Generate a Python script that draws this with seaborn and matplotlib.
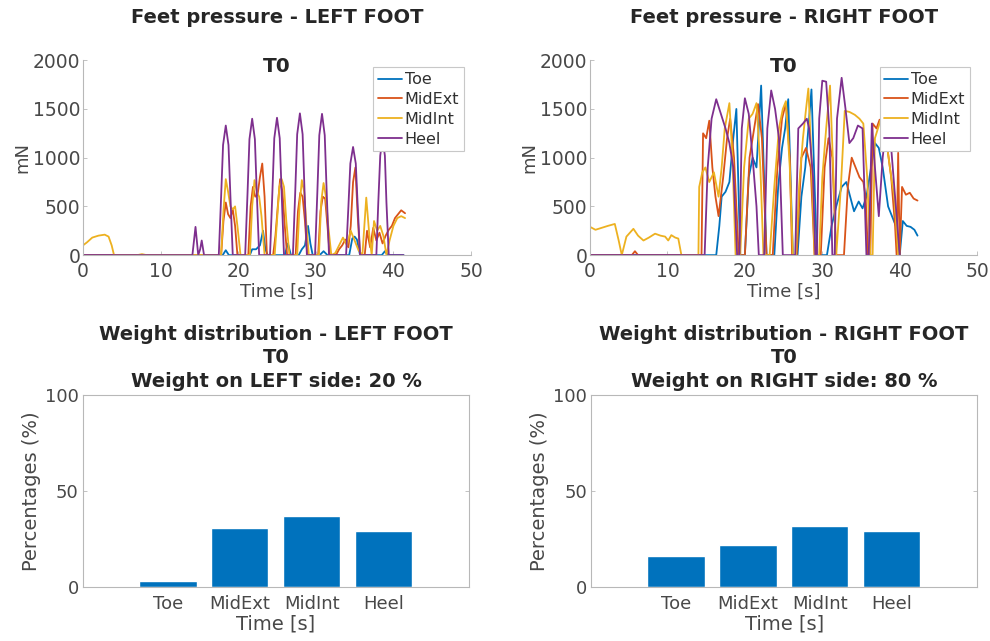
import numpy as np
import pandas as pd
import matplotlib
matplotlib.use("Agg")
import matplotlib.pyplot as plt
import seaborn as sns

# ---------------- data ----------------
sensors = ["Toe", "MidExt", "MidInt", "Heel"]
line_colors = ["#0072BD", "#D95319", "#EDB120", "#7E2F8E"]
bar_color = "#0072BD"

# LEFT foot time series (time [s], pressure [mN])
t_left_toe = [0, 18.0, 18.4, 18.8, 21.5, 21.8, 22.3, 22.8, 23.2, 23.5, 23.8,
              26.0, 26.4, 26.8, 27.8, 28.2, 28.6, 29.0, 29.3, 29.6, 30.5, 31.0, 31.5,
              34.3, 34.7, 35.0, 35.3, 35.7, 38.5, 38.9, 39.3, 41.3]
v_left_toe = [0, 0, 50, 0, 0, 60, 60, 100, 250, 60, 0,
              0, 120, 0, 0, 60, 100, 300, 120, 0, 0, 40, 0,
              0, 170, 190, 160, 0, 0, 40, 0, 0]

t_left_midext = [0, 17.8, 18.1, 18.4, 18.7, 19.0, 19.3, 19.6, 19.9,
                 21.3, 21.6, 21.9, 22.2, 22.5, 22.8, 23.1, 23.4, 23.7,
                 24.5, 24.8, 25.1, 25.4, 25.7, 26.0, 26.3,
                 27.4, 27.7, 28.0, 28.3, 28.6, 28.9,
                 30.3, 30.6, 30.9, 31.2, 31.5, 31.8,
                 32.6, 33.0, 33.4, 33.8, 34.2, 34.5, 34.8, 35.1, 35.4, 35.7,
                 36.3, 36.6, 37.0, 37.4, 37.8, 38.2, 38.6, 39.0, 39.4, 39.8, 40.2, 40.6, 41.0, 41.5]
v_left_midext = [0, 0, 350, 540, 420, 380, 470, 300, 0,
                 0, 500, 700, 600, 620, 800, 940, 600, 0,
                 0, 200, 500, 780, 650, 300, 0,
                 0, 450, 640, 600, 350, 0,
                 0, 450, 600, 580, 300, 0,
                 0, 60, 100, 160, 80, 300, 750, 900, 400, 0,
                 0, 250, 80, 280, 150, 230, 120, 200, 260, 300, 380, 420, 460, 430]

t_left_midint = [0, 0.5, 1.2, 2.0, 2.8, 3.3, 3.7, 4.0, 7.0, 7.6, 8.2,
                 17.8, 18.1, 18.4, 18.7, 19.0, 19.3, 19.6, 19.9, 20.3,
                 21.5, 21.8, 22.1, 22.4, 22.7, 23.0, 23.4,
                 24.7, 25.0, 25.3, 25.6, 25.9, 26.2, 26.6,
                 27.6, 27.9, 28.2, 28.5, 28.8, 29.1,
                 30.4, 30.7, 31.0, 31.3, 31.6, 32.0,
                 32.5, 33.0, 33.5, 34.0, 34.5, 35.0, 35.5, 36.0,
                 36.5, 36.9, 37.2, 37.5, 37.9, 38.3, 38.7, 39.1, 39.5, 40.0, 40.5, 41.0, 41.5]
v_left_midint = [100, 130, 180, 200, 210, 190, 100, 0, 0, 10, 0,
                 0, 450, 780, 650, 500, 470, 500, 300, 0,
                 0, 500, 770, 650, 600, 400, 0,
                 0, 350, 700, 780, 700, 350, 0,
                 0, 500, 770, 650, 300, 0,
                 0, 550, 740, 600, 300, 0,
                 20, 100, 180, 100, 250, 150, 50, 0,
                 590, 200, 0, 350, 250, 300, 200, 0, 150, 300, 380, 400, 380]

t_left_heel = [0, 14.1, 14.5, 14.85, 15.1, 15.3, 15.6,
               17.5, 17.8, 18.05, 18.4, 18.75, 19.0, 19.3,
               20.9, 21.2, 21.45, 21.8, 22.15, 22.4, 22.7,
               24.1, 24.4, 24.65, 25.0, 25.35, 25.6, 25.9,
               27.05, 27.35, 27.6, 27.95, 28.3, 28.55, 28.85,
               29.9, 30.2, 30.45, 30.8, 31.15, 31.4, 31.7,
               33.9, 34.2, 34.45, 34.8, 35.15, 35.4, 35.7,
               37.8, 38.05, 38.3, 38.6, 38.9, 39.1, 39.4, 41.3]
v_left_heel = [0, 0, 290, 0, 60, 150, 0,
               0, 600, 1130, 1330, 1130, 600, 0,
               0, 630, 1190, 1400, 1190, 630, 0,
               0, 630, 1200, 1410, 1200, 630, 0,
               0, 650, 1240, 1455, 1240, 650, 0,
               0, 650, 1230, 1450, 1230, 650, 0,
               0, 500, 940, 1110, 940, 500, 0,
               0, 540, 1020, 1200, 1020, 540, 0, 0]

# RIGHT foot time series
t_right_toe = [0, 16.3, 16.7, 17.0, 17.5, 18.0, 18.5, 18.9, 19.4,
               20.0, 20.5, 21.0, 21.5, 22.1, 22.8,
               23.8, 24.3, 24.8, 25.2, 25.6, 26.2,
               26.8, 27.3, 27.8, 28.2, 28.6, 29.3,
               30.6, 31.2, 31.8, 32.5, 33.1, 33.6, 34.1, 34.7, 35.2, 35.7, 36.3, 36.8,
               37.3, 37.8, 38.5, 39.0, 39.5, 40.0, 40.4, 40.9, 41.4, 41.9, 42.3]
v_right_toe = [0, 0, 300, 600, 650, 750, 1200, 1500, 0,
               0, 800, 1000, 900, 1740, 0,
               0, 700, 1100, 1300, 1600, 0,
               0, 600, 900, 1300, 1700, 0,
               0, 300, 500, 700, 750, 600, 450, 550, 480, 600, 900, 1150,
               1100, 900, 500, 400, 300, 0, 350, 300, 290, 260, 200]

t_right_midext = [0, 5.4, 5.8, 6.2, 14.4, 14.6, 15.0, 15.4, 15.8, 16.2, 16.6, 17.2, 17.7, 18.1, 18.6, 19.2,
                  20.0, 20.6, 21.2, 21.7, 22.2, 22.8,
                  23.6, 24.2, 24.8, 25.3, 25.8, 26.1,
                  26.7, 27.3, 27.9, 28.5, 29.0,
                  29.8, 30.3, 30.8, 31.3, 31.8,
                  32.8, 33.3, 33.8, 34.3, 34.8, 35.3, 35.6, 35.9,
                  36.2, 36.5, 37.0, 37.4, 37.9, 38.4, 38.9, 39.4, 39.6, 39.8, 40.0, 40.3, 40.8, 41.3, 41.8, 42.3]
v_right_midext = [0, 0, 40, 0, 0, 1250, 1200, 1380, 900, 600, 400, 800, 1200, 1400, 1000, 0,
                  0, 1000, 1300, 1550, 1200, 0,
                  0, 900, 1400, 1560, 1000, 0,
                  0, 1000, 1100, 900, 0,
                  0, 900, 1200, 1000, 0,
                  0, 700, 1000, 900, 800, 750, 600, 0,
                  0, 1350, 1300, 1390, 1250, 1100, 800, 300, 0, 1050, 0, 700, 620, 640, 580, 560]

t_right_midint = [0, 0.7, 1.5, 2.3, 3.2, 3.7, 4.1, 4.7, 5.6, 6.2, 6.9, 7.6, 8.4, 9.1, 9.7, 10.1, 10.5, 11.0, 11.4, 11.8,
                  14.0, 14.1, 14.5, 14.9, 15.4, 16.0, 16.6, 17.0, 17.4, 18.0, 18.4, 18.8,
                  19.4, 19.9, 20.5, 21.0, 21.5, 22.0, 22.4,
                  23.2, 23.8, 24.4, 24.9, 25.3, 25.8, 26.2,
                  26.6, 27.0, 27.5, 27.9, 28.2, 28.6, 29.0,
                  29.6, 30.0, 30.5, 31.0, 31.4, 31.8, 32.4, 32.9, 33.5, 34.2, 34.8, 35.3, 35.8, 36.2,
                  36.5, 36.8, 37.5, 38.0, 38.4, 38.9, 39.3, 39.8]
v_right_midint = [290, 260, 280, 300, 320, 150, 0, 190, 270, 200, 150, 180, 220, 200, 190, 150, 205, 180, 170, 0,
                  0, 700, 850, 900, 750, 850, 600, 900, 1300, 1560, 1000, 0,
                  0, 900, 1400, 1450, 1560, 900, 0,
                  0, 700, 1300, 1500, 1580, 900, 0,
                  0, 700, 1200, 1500, 1710, 1000, 0,
                  0, 800, 1300, 1740, 900, 0, 700, 1480, 1470, 1440, 1400, 1350, 800, 0,
                  0, 1200, 1380, 1250, 1100, 800, 600, 0]

t_right_heel = [0, 14.8, 15.2, 15.7, 16.3, 16.9, 17.5, 18.0, 18.5, 19.0,
                19.3, 19.6, 20.0, 20.5, 21.0, 21.5, 21.8,
                22.5, 22.9, 23.4, 23.9, 24.4, 24.9,
                26.5, 26.9, 27.5, 28.0, 28.3, 28.8, 29.1,
                29.3, 29.6, 30.0, 30.5, 30.9, 31.3,
                31.6, 31.9, 32.5, 33.0, 33.5, 34.0, 34.6, 35.2, 35.7,
                36.0, 36.4, 36.8, 37.3, 37.8, 38.5, 39.2, 40.0]
v_right_heel = [0, 0, 900, 1400, 1600, 1450, 1300, 1150, 900, 0,
                0, 1300, 1610, 1450, 1000, 500, 0,
                0, 1300, 1690, 1500, 1200, 0,
                0, 1300, 1350, 1400, 1300, 800, 0,
                0, 1400, 1790, 1780, 1300, 0,
                0, 1400, 1820, 1500, 1150, 1200, 1330, 1300, 0,
                0, 1350, 900, 400, 1000, 1500, 800, 0]

# Weight distribution (%)
left_pct = [3, 31, 37, 29]
right_pct = [16, 22, 32, 29]
left_side_weight = 20
right_side_weight = 80

# ---------------- style ----------------
sns.set_style("white")
plt.rcParams["font.family"] = ["DejaVu Sans"]
tick_col = "#484848"
spine_col = "#b8b8b8"

fig = plt.figure(figsize=(9.9, 6.41), dpi=100)

def long_df(ts, vs):
    frames = []
    for name, t, v in zip(sensors, ts, vs):
        frames.append(pd.DataFrame({"t": t, "v": v, "sensor": name}))
    return pd.concat(frames, ignore_index=True)

def style_axes(ax, box, size):
    for s in ["left", "bottom", "top", "right"]:
        ax.spines[s].set_color(spine_col)
        ax.spines[s].set_linewidth(0.8)
    if not box:
        ax.spines["top"].set_visible(False)
        ax.spines["right"].set_visible(False)
    ax.tick_params(direction="in", length=3, width=0.6, color=spine_col,
                   labelcolor=tick_col, labelsize=size, pad=3,
                   top=box, right=box, bottom=True, left=True)

def line_panel(rect, ts, vs, side):
    ax = fig.add_axes(rect)
    df = long_df(ts, vs)
    sns.lineplot(data=df, x="t", y="v", hue="sensor", hue_order=sensors,
                 palette=line_colors, estimator=None, sort=False,
                 linewidth=1.3, ax=ax)
    ax.set_xlim(0, 50)
    ax.set_ylim(0, 2000)
    ax.set_xticks([0, 10, 20, 30, 40, 50])
    ax.set_yticks([0, 500, 1000, 1500, 2000])
    style_axes(ax, box=False, size=13.5)
    ax.tick_params(axis="x", pad=5)
    ax.tick_params(axis="y", pad=2)
    ax.set_xlabel("Time [s]", fontsize=13, color=tick_col, labelpad=1)
    ax.set_ylabel("mN", fontsize=13, color=tick_col, labelpad=1)
    ax.set_title(f"Feet pressure - {side} FOOT", fontsize=14,
                 fontweight="bold", pad=27)
    ax.text(0.5, 0.97, "T0", transform=ax.transAxes, ha="center", va="center",
            fontsize=14.5, fontweight="bold")
    handles, labels = ax.get_legend_handles_labels()
    leg = ax.legend(handles, labels, loc="upper right", fontsize=11.5,
                    frameon=True, fancybox=False, framealpha=1,
                    edgecolor="#c8c8c8", handlelength=1.5, handletextpad=0.15,
                    labelspacing=0.3, borderpad=0.3, borderaxespad=0.45)
    leg.get_frame().set_linewidth(0.8)
    for txt in leg.get_texts():
        txt.set_color("#303030")
    leg.set_zorder(5)
    return ax

def bar_panel(rect, pct, side, side_w):
    ax = fig.add_axes(rect)
    sns.barplot(x=sensors, y=pct, color=bar_color, saturation=1, width=0.8, ax=ax)
    ax.set_xlim(-1.18, 4.19)
    ax.set_ylim(0, 100)
    ax.set_yticks([0, 50, 100])
    style_axes(ax, box=True, size=13)
    ax.tick_params(axis="x", pad=6, length=0)
    ax.set_xlabel("Time [s]", fontsize=14, color=tick_col, labelpad=1)
    ax.set_ylabel("Percentages (%)", fontsize=14, color=tick_col, labelpad=3)
    ax.set_title(f"Weight distribution - {side} FOOT\nT0\nWeight on {side} side: {side_w} %",
                 fontsize=14, fontweight="bold", pad=6, linespacing=1.3)
    return ax

line_panel([0.0838, 0.602, 0.392, 0.304],
           [t_left_toe, t_left_midext, t_left_midint, t_left_heel],
           [v_left_toe, v_left_midext, v_left_midint, v_left_heel], "LEFT")
line_panel([0.596, 0.602, 0.391, 0.304],
           [t_right_toe, t_right_midext, t_right_midint, t_right_heel],
           [v_right_toe, v_right_midext, v_right_midint, v_right_heel], "RIGHT")
bar_panel([0.0838, 0.0842, 0.390, 0.2995], left_pct, "LEFT", left_side_weight)
bar_panel([0.597, 0.0842, 0.390, 0.2995], right_pct, "RIGHT", right_side_weight)

fig.savefig("out.png", dpi=100)
